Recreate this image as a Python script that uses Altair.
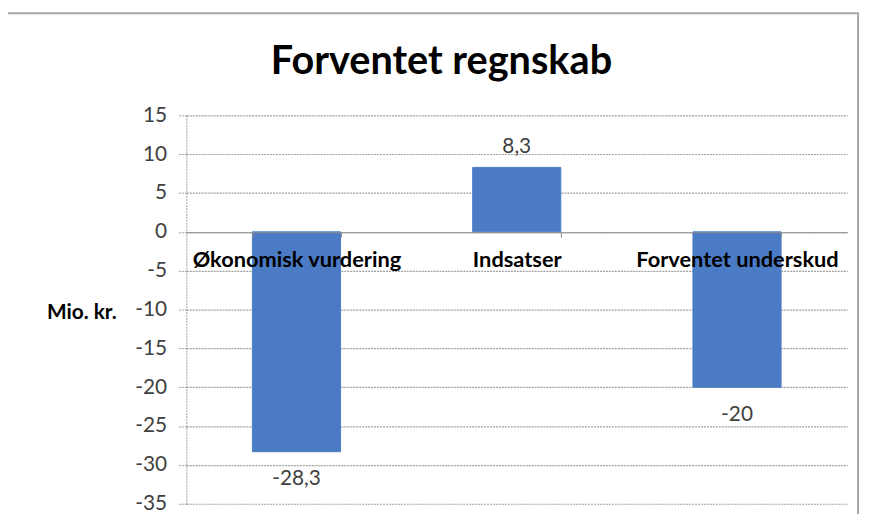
import altair as alt
import pandas as pd

categories = ["Økonomisk vurdering", "Indsatser", "Forventet underskud"]
values = [-28.3, 8.3, -20.0]
value_labels = ["-28,3", "8,3", "-20"]
y_ticks = [15, 10, 5, 0, -5, -10, -15, -20, -25, -30, -35]

df = pd.DataFrame({"cat": categories, "val": values, "lab": value_labels})

FONT = "Lato"
FS = 21
W, H = 667, 392

x_enc = alt.X("cat:N", sort=categories, scale=alt.Scale(paddingInner=0.6, paddingOuter=0.3),
              axis=alt.Axis(title=None, labelAngle=0, offset=-274, orient="bottom",
                            domainColor="#8c8c8c", tickColor="#8c8c8c", tickSize=5,
                            tickBand="extent", labelFont=FONT, labelFontSize=FS + 1,
                            labelFontWeight="bold", labelColor="#000000", labelPadding=13,
                            labelLimit=400, grid=False, zindex=1, labelOverlap=False))
y_scale = alt.Scale(domain=[-35, 15], nice=False, zero=False)

base = alt.Chart(df)

bars = base.mark_bar(color="#4a7bc4", stroke="#4a7bc4").encode(
    x=x_enc,
    y=alt.Y("val:Q", scale=y_scale,
            axis=alt.Axis(values=y_ticks, tickCount=20, title="Mio. kr.", titleAngle=0,
                          titleFont=FONT, titleFontSize=FS, titleFontWeight="bold",
                          titleColor="#000000", titleX=-106, titleY=199,
                          titleAlign="center", titleBaseline="middle",
                          labelFont=FONT, labelFontSize=FS, labelColor="#404040",
                          labelExpr="toString(datum.value)", labelOverlap=False,
                          labelPadding=12, tickSize=8, tickColor="#a0a0a0",
                          tickDash=[2, 1], domainColor="#a0a0a0", domainDash=[2, 1],
                          gridColor="#a0a0a0", gridDash=[2, 1], gridWidth=1.2)),
    y2=alt.datum(0),
)

pos_text = base.transform_filter("datum.val >= 0").mark_text(
    baseline="bottom", dy=-11, font=FONT, fontSize=FS, color="#404040"
).encode(x=alt.X("cat:N", sort=categories), y=alt.Y("val:Q", scale=y_scale), text="lab:N")

neg_text = base.transform_filter("datum.val < 0").mark_text(
    baseline="top", dy=17, font=FONT, fontSize=FS, color="#404040"
).encode(x=alt.X("cat:N", sort=categories), y=alt.Y("val:Q", scale=y_scale), text="lab:N")

frame = alt.Chart(pd.DataFrame({"k": [0]})).mark_rect(
    fill=None, stroke="#a6a6a6", strokeWidth=2
).encode(x=alt.value(-182), x2=alt.value(678), y=alt.value(-103), y2=alt.value(430))

chart = alt.layer(bars, pos_text, neg_text, frame).properties(
    width=W, height=H,
    title=alt.Title("Forventet regnskab", font=FONT, fontSize=40, fontWeight="bold",
                    color="#000000", anchor="middle", frame="group", offset=0,
                    dy=70, dx=-76),
    autosize=alt.AutoSizeParams(type="none"),
    padding={"left": 180, "top": 106, "right": 17, "bottom": 8},
).configure_view(stroke=None)

chart.save("out.html", embed_options={"renderer": "svg", "actions": False})
